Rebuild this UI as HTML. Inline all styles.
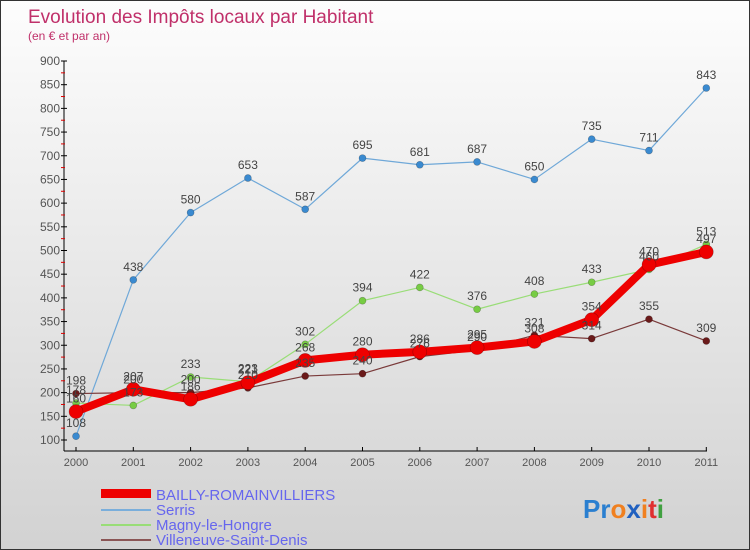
<!DOCTYPE html>
<html><head><meta charset="utf-8"><style>
body{margin:0;}
#wrap{position:relative;width:750px;height:550px;background:linear-gradient(#fdfdfd,#d2d2d2);box-sizing:border-box;border:1px solid #333;overflow:hidden;font-family:"Liberation Sans",sans-serif;}
</style></head><body>
<div id="wrap">
<svg id="chart" width="750" height="550" style="position:absolute;left:0;top:0">
<text x="27" y="22" font-size="19" fill="#c0306a">Evolution des Impôts locaux par Habitant</text>
<text x="27" y="39" font-size="12" fill="#c0306a">(en € et par an)</text>
<g id="axes"></g><g id="series"></g><g id="labels"></g>
<g>
<rect x="100" y="488" width="50" height="9" fill="#e00"/>
<text x="155" y="499" font-size="15" fill="#6666ee">BAILLY-ROMAINVILLIERS</text>
<rect x="100" y="508" width="50" height="2" fill="#7aaedb"/>
<text x="155" y="514" font-size="15" fill="#6666ee">Serris</text>
<rect x="100" y="523" width="50" height="2" fill="#99dd77"/>
<text x="155" y="529" font-size="15" fill="#6666ee">Magny-le-Hongre</text>
<rect x="100" y="538" width="50" height="2" fill="#8a5555"/>
<text x="155" y="544" font-size="15" fill="#6666ee">Villeneuve-Saint-Denis</text>
</g>
<g font-size="26" font-weight="bold">
<text x="582" y="517"><tspan fill="#2a7fd0">Pr</tspan><tspan fill="#f08020">o</tspan><tspan fill="#2060c0">x</tspan><tspan fill="#f08020">i</tspan><tspan fill="#e03030">t</tspan><tspan fill="#40a040">i</tspan></text>
</g>
</svg>
</div>
<script>
const years=["2000","2001","2002","2003","2004","2005","2006","2007","2008","2009","2010","2011"];
const yTicks=[100,150,200,250,300,350,400,450,500,550,600,650,700,750,800,850,900];
const bailly=[160,207,186,221,268,280,286,295,308,354,470,497];
const serris=[108,438,580,653,587,695,681,687,650,735,711,843];
const magny=[178,173,233,223,302,394,422,376,408,433,460,513];
const villeneuve=[198,200,200,210,235,240,276,290,321,314,355,309];
const NS="http://www.w3.org/2000/svg";
const x=i=>75+i*57.3;
const y=v=>439-(v-100)*379/800;
function mk(t,a,p){const e=document.createElementNS(NS,t);for(const k in a)e.setAttribute(k,a[k]);p.appendChild(e);return e;}
const ax=document.getElementById('axes');
mk('line',{x1:63,y1:60,x2:63,y2:450,stroke:'#000'},ax);
mk('line',{x1:63,y1:450,x2:706,y2:450,stroke:'#000'},ax);
yTicks.forEach((v,i)=>{
 mk('line',{x1:60,y1:y(v),x2:66,y2:y(v),stroke:'#000'},ax);
 if(i<yTicks.length-1)mk('line',{x1:60,y1:y(v+25),x2:64,y2:y(v+25),stroke:'#d00'},ax);
 const t=mk('text',{x:59,y:y(v)+4,'text-anchor':'end','font-size':12,fill:'#555'},ax);
 t.textContent=v;
 
 
});
years.forEach((yr,i)=>{
 mk('line',{x1:x(i),y1:446,x2:x(i),y2:450,stroke:'#000'},ax);
 const t=mk('text',{x:x(i),y:465,'text-anchor':'middle','font-size':11,fill:'#555'},ax);
 t.textContent=yr;
 
 
});
const sg=document.getElementById('series'),lg=document.getElementById('labels');
function draw(vals,color,w,r,dot,name){
 const p=mk('polyline',{points:vals.map((v,i)=>x(i)+','+y(v)).join(' '),fill:'none',stroke:color,'stroke-width':w,'stroke-linejoin':'round'},sg);
 
 
 vals.forEach((v,i)=>{
  const c=mk('circle',{cx:x(i),cy:y(v),r:r,fill:dot,stroke:'rgba(0,0,0,0.3)','stroke-width':0.6},sg);
  
  
  const t=mk('text',{x:x(i),y:y(v)-9,'text-anchor':'middle','font-size':12,fill:'#444'},lg);
  t.textContent=v;
  
  
 });
}
draw(serris,'#6fa8d8',1.2,3.5,'#3a8ad0','serris');
draw(magny,'#99dd77',1.2,3.5,'#77cc44','magny');
draw(villeneuve,'#7a3a3a',1.2,3.5,'#6a1a1a','villeneuve');
draw(bailly,'#ee0000',8,7,'#ee0000','bailly');
</script>
</body></html>
